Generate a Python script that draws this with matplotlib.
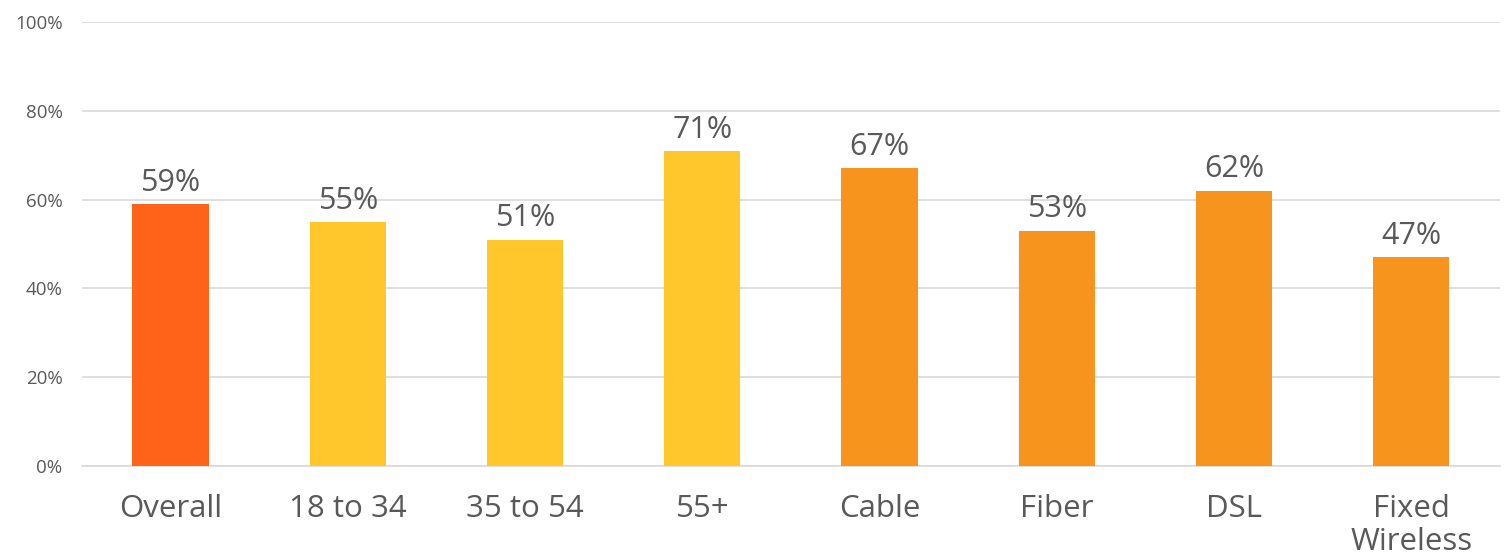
import matplotlib.pyplot as plt

categories = ["Overall", "18 to 34", "35 to 54", "55+", "Cable", "Fiber", "DSL", "Fixed\nWireless"]
values = [59, 55, 51, 71, 67, 53, 62, 47]
colors = ["#FF6319", "#FFC72C", "#FFC72C", "#FFC72C", "#F7941D", "#F7941D", "#F7941D", "#F7941D"]
yticks = [0, 20, 40, 60, 80, 100]

plt.rcParams['font.family'] = ['Open Sans', 'DejaVu Sans']

def get_graph():
    fig = plt.figure(figsize=(15.09, 5.55), dpi=100)
    ax = fig.add_axes([0.0543, 0.1604, 0.9397, 0.80])
    x = list(range(len(categories)))
    bars = ax.bar(x, values, width=0.43, color=colors, zorder=3)
    for b, v in zip(bars, values):
        ax.text(b.get_x() + b.get_width() / 2, v + 1.4, f"{v}%",
                ha="center", va="bottom", fontsize=22, color="#595959")
    ax.set_xlim(-0.5, len(categories) - 0.5)
    ax.set_ylim(0, 100)
    ax.set_yticks(yticks)
    ax.set_yticklabels([f"{t}%" for t in yticks], fontsize=13.5, color="#595959")
    ax.set_xticks(x)
    ax.set_xticklabels(categories, fontsize=22.5, color="#595959", linespacing=1.12)
    ax.yaxis.grid(True, color="#D9D9D9", linewidth=1.2, zorder=0)
    ax.tick_params(axis="both", length=0)
    ax.tick_params(axis="y", pad=14)
    ax.tick_params(axis="x", pad=20)
    for s in ["top", "right", "left"]:
        ax.spines[s].set_visible(False)
    ax.spines["bottom"].set_color("#D9D9D9")
    ax.spines["bottom"].set_linewidth(1.2)
    fig.savefig("out.png", dpi=100)

if __name__ == '__main__':
    get_graph()
